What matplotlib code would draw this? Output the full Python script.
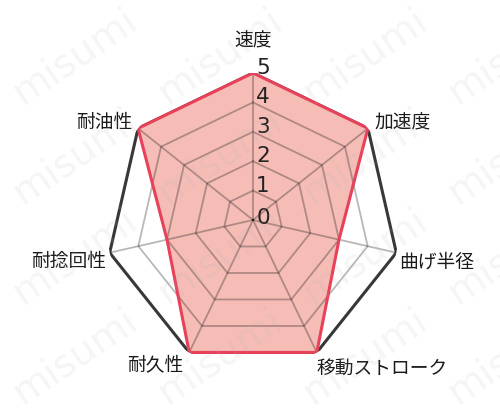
import numpy as np
import matplotlib
matplotlib.use("Agg")
import matplotlib.pyplot as plt

plt.rcParams['font.family'] = ['Noto Sans CJK JP', 'DejaVu Sans']

categories = ['速度', '加速度', '曲げ半径', '移動ストローク', '耐久性', '耐捻回性', '耐油性']
values = [5, 5, 3, 5, 5, 3, 5]
levels = [0, 1, 2, 3, 4, 5]
rmax = 5

# label placement style (offset in px, alignment)
label_offsets = [(0, 33, 'center'), (7, 6, 'left'), (3, -8, 'left'), (0, -15, 'left'),
                 (-6, -12, 'right'), (-4, -8, 'right'), (-6, 7, 'right')]

W, H = 500, 414
fig = plt.figure(figsize=(W / 100, H / 100), dpi=100)
cx, cy, R = 253, 221, 147
ax = fig.add_axes([(cx - R) / W, (H - cy - R) / H, 2 * R / W, 2 * R / H], projection='polar')
ax.set_theta_zero_location('N')
ax.set_theta_direction(-1)
ax.set_ylim(0, rmax)
ax.grid(False)
ax.spines['polar'].set_visible(False)
ax.set_xticks([])
ax.set_yticks([])
ax.patch.set_alpha(0)

n = len(categories)
theta = np.linspace(0, 2 * np.pi, n, endpoint=False)
tc = np.append(theta, theta[0])

# outer frame
ax.plot(tc, [rmax] * (n + 1), color='#383838', lw=2.2, zorder=1, solid_joinstyle='miter')

# filled data
vc = values + values[:1]
ax.fill(tc, vc, color='#f5bdb6', zorder=2, lw=0)

# grid rings and spokes
for lv in levels[1:-1]:
    ax.plot(tc, [lv] * (n + 1), color='black', alpha=0.28, lw=1.3, zorder=3)
for t in theta:
    ax.plot([t, t], [0, rmax], color='black', alpha=0.28, lw=1.3, zorder=3)

# data outline
ax.plot(tc, vc, color='#e8415a', lw=2.2, zorder=4, solid_joinstyle='miter')

# radial tick labels
for lv in levels:
    ax.annotate(str(lv), xy=(0, lv), xytext=(10, 6 if lv > 0 else 3), textcoords='offset pixels',
                ha='center', va='center', fontsize=15.5, color='#222222',
                family='DejaVu Sans', zorder=6)

# category labels
for t, lab, (dx, dy, ha) in zip(theta, categories, label_offsets):
    ax.annotate(lab, xy=(t, rmax), xytext=(dx, dy), textcoords='offset pixels',
                ha=ha, va='center', fontsize=13.5, color='#1a1a1a', zorder=6,
                annotation_clip=False)

# watermark
for i in range(4):
    for j in range(4):
        x = 75 + 145 * i
        y = 56 + 100 * j
        fig.text(x / W, 1 - y / H, 'misumi', rotation=34, ha='center', va='center',
                 fontsize=28, color='#b0b0b0', alpha=0.12, family='DejaVu Sans', zorder=10)

fig.savefig('out.png', dpi=100)
